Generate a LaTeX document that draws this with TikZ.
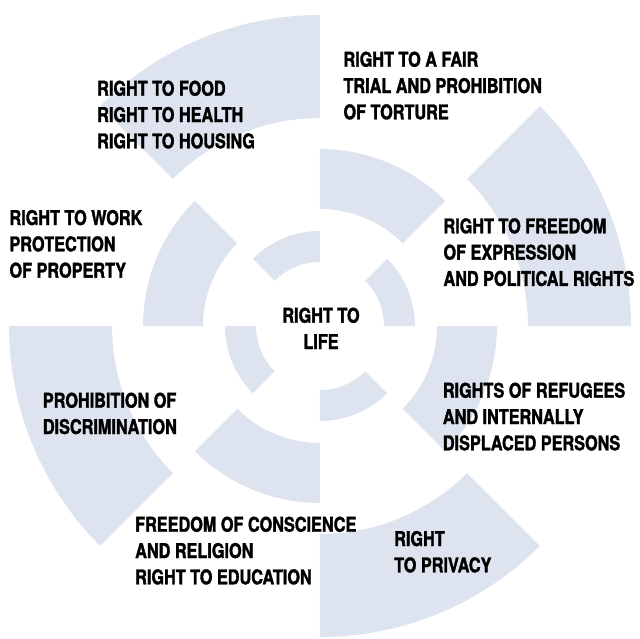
\documentclass[tikz,border=0pt]{standalone}
\usepackage{fontspec}
\newfontfamily\rightsfont{TeX Gyre Heros}[FakeStretch=0.80, FakeBold=1.6]
\usepackage{tikz}
\usetikzlibrary{calc}
\definecolor{ringblue}{RGB}{221,227,239}
\tikzset{>=latex}

\begin{document}
\begin{tikzpicture}
[x=1pt, y=1pt,
ring/.style={fill=ringblue},
rights/.style={anchor=base west, align=left, inner sep=0pt,
  font=\rightsfont\bfseries\fontsize{20.3}{26.3}\selectfont}]
\useasboundingbox (-320,-312) rectangle (320,326);
% rings of quarter-segments
\foreach \ri/\ro/\s in {64/95/0, 117/177/45, 208/311/0}
  \foreach \q in {0,90,180,270}
  {
  \pgfmathsetmacro{\a}{\s+\q}
  \pgfmathsetmacro{\b}{\s+\q+45}
  \fill[ring] (\a:\ri pt) arc[start angle=\a, end angle=\b, radius=\ri pt]
    -- (\b:\ro pt) arc[start angle=\b, end angle=\a, radius=\ro pt] -- cycle;
  }
% labels (placed at the baseline of their last line)
\node[rights, anchor=base, align=center] (life) at (1,-23) {RIGHT TO\\LIFE};
\node[rights] (food) at (-223,177.7) {RIGHT TO FOOD\\RIGHT TO HEALTH\\RIGHT TO HOUSING};
\node[rights] (trial) at (23.3,206.7) {RIGHT TO A FAIR\\TRIAL AND PROHIBITION\\OF TORTURE};
\node[rights] (work) at (-310.7,48.4) {RIGHT TO WORK\\PROTECTION\\OF PROPERTY};
\node[rights] (expression) at (123.3,40.1) {RIGHT TO FREEDOM\\OF EXPRESSION\\AND POLITICAL RIGHTS};
\node[rights] (refugees) at (122.7,-124.3) {RIGHTS OF REFUGEES\\AND INTERNALLY\\DISPLACED PERSONS};
\node[rights] (discrimination) at (-277.3,-108) {PROHIBITION OF\\DISCRIMINATION};
\node[rights] (conscience) at (-185,-258.3) {FREEDOM OF CONSCIENCE\\AND RELIGION\\RIGHT TO EDUCATION};
\node[rights] (privacy) at (74,-246.3) {RIGHT\\TO PRIVACY};
\end{tikzpicture}
\end{document}
